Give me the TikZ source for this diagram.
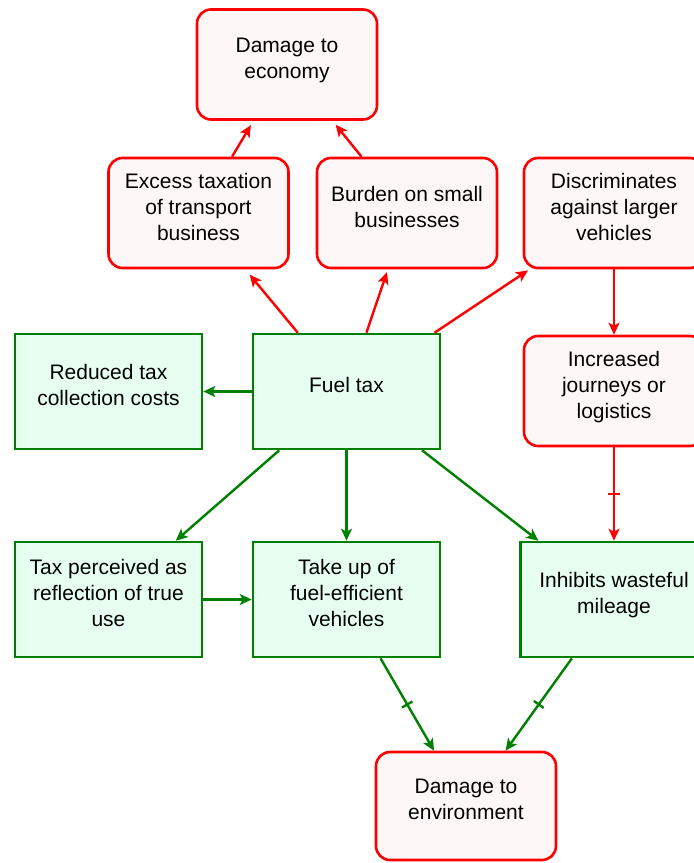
\documentclass[tikz,border=0pt]{standalone}
\usepackage{fontspec}
\setmainfont{Liberation Sans}
\usetikzlibrary{arrows.meta,decorations.markings}
\definecolor{linkred}{RGB}{255,0,0}
\definecolor{linkgreen}{RGB}{0,128,0}
\definecolor{fillred}{RGB}{253,247,247}
\definecolor{fillgreen}{RGB}{230,255,240}
\tikzset{
  boxtext/.style={align=center, font=\fontsize{21}{26}\selectfont, text depth=13pt},
  effect/.style={boxtext, draw=linkred, fill=fillred, line width=2.6pt,
    rounded corners=14pt, minimum width=180pt, minimum height=110pt},
  factor/.style={boxtext, draw=linkgreen, fill=fillgreen, line width=2.6pt,
    minimum width=187pt, minimum height=115pt},
  redlink/.style={draw=linkred, line width=2.4pt,
    -{Stealth[length=12pt,width=11pt,inset=3pt]}},
  greenlink/.style={draw=linkgreen, line width=2.4pt,
    -{Stealth[length=12pt,width=11pt,inset=3pt]}},
  negtick/.style={postaction={decorate}, decoration={markings,
    mark=at position 0.5 with {\draw[-, #1, line width=2.4pt] (0,-6pt) -- (0,6pt);}}}
}
\begin{document}
\begin{tikzpicture}[x=1pt,y=-1pt]
  \useasboundingbox (0,0) rectangle (694,863);
  % red effects
  \node[effect] (econ) at (287,64.5) {Damage to\\economy};
  \node[effect] (excess) at (198.5,213) {Excess taxation\\of transport\\business};
  \node[effect] (burden) at (407,213) {Burden on small\\businesses};
  \node[effect] (discr) at (614,213) {Discriminates\\against larger\\vehicles};
  \node[effect] (incr) at (614,391) {Increased\\journeys or\\logistics};
  \node[effect, minimum height=108pt] (env) at (466,806) {Damage to\\environment};
  % green factors
  \node[factor] (reduced) at (108.5,391.5) {Reduced tax\\collection costs};
  \node[factor] (fuel) at (346.5,391.5) {Fuel tax};
  \node[factor] (perceived) at (108.5,599.5) {Tax perceived as\\reflection of true\\use};
  \node[factor] (takeup) at (346.5,599.5) {Take up of\\fuel-efficient\\vehicles};
  \node[factor] (inhibits) at (614,599.5) {Inhibits wasteful\\mileage};
  % links
  \draw[redlink, shorten >=5pt] (excess) -- (econ);
  \draw[redlink, shorten >=5pt] (burden) -- (econ);
  \draw[redlink, shorten >=7pt] (fuel) -- (excess);
  \draw[redlink, shorten >=3pt] (fuel) -- (burden);
  \draw[redlink, shorten >=2pt] (fuel) -- (discr);
  \draw[redlink] (discr) -- (incr);
  \draw[redlink, negtick=linkred] (incr) -- (inhibits);
  \draw[greenlink] (fuel) -- (reduced);
  \draw[greenlink] (fuel) -- (perceived);
  \draw[greenlink] (fuel) -- (takeup);
  \draw[greenlink] (fuel) -- (inhibits);
  \draw[greenlink] (perceived) -- (takeup);
  \draw[greenlink, negtick=linkgreen] (takeup) -- (env);
  \draw[greenlink, negtick=linkgreen] (inhibits) -- (env);
\end{tikzpicture}
\end{document}
